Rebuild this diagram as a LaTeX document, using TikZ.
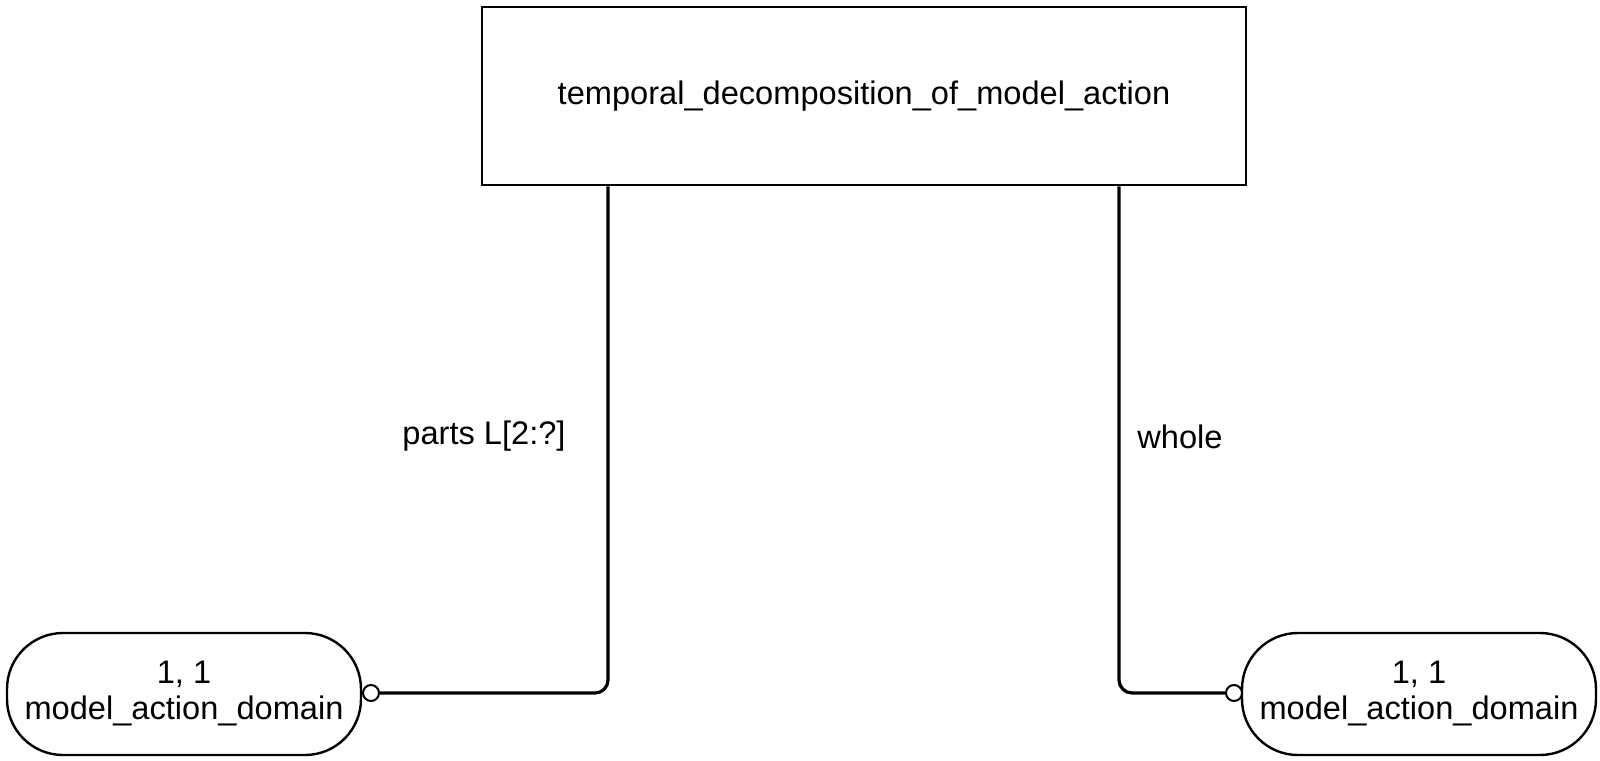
\documentclass[tikz,border=0pt]{standalone}
\usepackage{fontspec}
\setmainfont{Liberation Sans}
\usepackage{tikz}
\usetikzlibrary{arrows.meta,positioning,calc}

\begin{document}
\begin{tikzpicture}[x=0.5pt, y=-0.5pt, font=\fontsize{16.3}{18}\selectfont]
\tikzset{
  ent/.style  ={draw, line width=1.4pt, align=center, inner sep=0pt,
                minimum width=382pt, minimum height=89pt},
  dom/.style  ={draw, line width=1.2pt, rounded corners=28pt, align=center, inner sep=0pt,
                minimum width=177pt, minimum height=61pt},
  opt/.style  ={draw, circle, line width=1pt, fill=white, inner sep=0pt, minimum size=8pt},
  rel/.style  ={line width=1.6pt, rounded corners=6.5pt},
  lbl/.style  ={inner sep=0pt}
}
\useasboundingbox (0,0) rectangle (1600,760);
\node (tda)[ent] at (864,96) {temporal\_decomposition\_of\_model\_action};
\node (dl)[dom] at (184,694) {1, 1\\model\_action\_domain};
\node (dr)[dom] at (1419,694) {1, 1\\model\_action\_domain};
\node (ol)[opt] at (371,693) {};
\node (or)[opt] at (1234,693) {};
\coordinate (pl) at (608,0);
\coordinate (pr) at (1119,0);
\draw[rel](tda.south -| pl) |- (ol.east);
\draw[rel](tda.south -| pr) |- (or.west);
\node (parts)[lbl] at (484,436) {parts L[2:?]};
\node (whole)[lbl] at (1180,437) {whole};
\end{tikzpicture}
\end{document}
